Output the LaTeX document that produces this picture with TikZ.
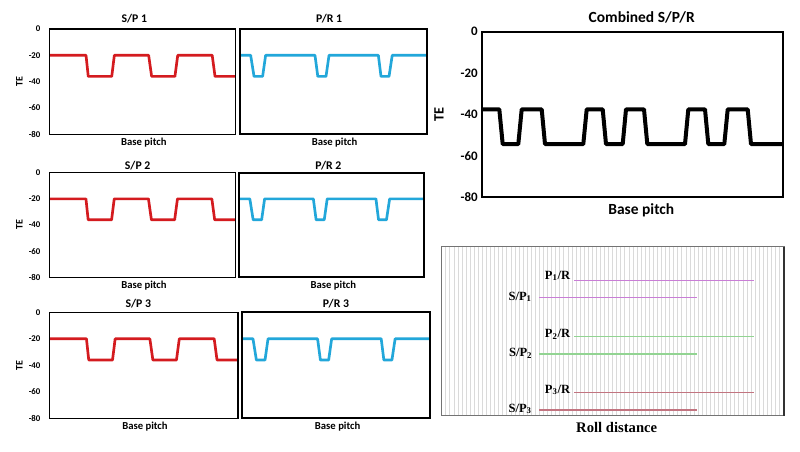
\documentclass[tikz,border=0pt]{standalone}
\usepackage{fontspec}
\setmainfont{Carlito}
\newfontfamily\rollfont{Liberation Serif}
\usepackage{xcolor}
\usepackage{tikz}
\usetikzlibrary{positioning}

\definecolor{spred}{HTML}{D41B1F}
\definecolor{prblue}{HTML}{22A7DA}
\definecolor{pone}{HTML}{C97ED6}
\definecolor{ptwo}{HTML}{92D492}
\definecolor{pthree}{HTML}{C27480}
\definecolor{rollgrid}{HTML}{DADADA}

\tikzset{
    panelbox/.style={line width=1.1pt},
    spline/.style={draw=spred, line width=2pt, line join=round},
    prline/.style={draw=prblue, line width=2pt, line join=round},
    combline/.style={draw=black, line width=3pt, line join=round},
    ticklbl/.style={anchor=east, inner sep=0pt, xshift=-6.5pt,
        font=\bfseries\fontsize{6.6}{7}\selectfont},
    telbl/.style={rotate=90, inner sep=0pt,
        font=\bfseries\fontsize{7.5}{8}\selectfont},
    paneltitle/.style={inner sep=0pt, font=\bfseries\fontsize{8.8}{10}\selectfont},
    pitchlbl/.style={inner sep=0pt, font=\bfseries\fontsize{8}{9}\selectfont},
    bigtick/.style={anchor=east, inner sep=0pt, xshift=-3.3pt,
        font=\bfseries\fontsize{9.7}{11}\selectfont},
    bigte/.style={rotate=90, inner sep=0pt,
        font=\bfseries\fontsize{10.7}{12}\selectfont},
    biglbl/.style={inner sep=0pt, font=\bfseries\fontsize{11.6}{13}\selectfont},
    rolllbl/.style={anchor=east, inner sep=0pt,
        font=\rollfont\bfseries\fontsize{9.4}{10}\selectfont},
    rollline/.style={line width=1.1pt}
}

% TE against base pitch, one panel wide, 0 to -80
\newcommand{\spwave}{(0,-20) -- (0.197,-20) -- (0.209,-36) -- (0.335,-36) -- (0.349,-20) -- (0.533,-20) -- (0.549,-36) -- (0.674,-36) -- (0.689,-20) -- (0.874,-20) -- (0.889,-36) -- (1,-36)}
\newcommand{\prwave}{(0,-20) -- (0.057,-20) -- (0.075,-36) -- (0.121,-36) -- (0.137,-20) -- (0.401,-20) -- (0.416,-36) -- (0.460,-36) -- (0.476,-20) -- (0.740,-20) -- (0.754,-36) -- (0.797,-36) -- (0.814,-20) -- (1,-20)}

\begin{document}
\begin{tikzpicture}[x=0.75pt, y=-0.75pt]
                \useasboundingbox[fill=white] (0,0) rectangle (800,451);

                % row 1
                \begin{scope}[shift={(49.3,29)}, x=139.8pt, y=0.987pt]
                    \draw[spline] \spwave;
                    \draw[panelbox] (0,0) rectangle (1,-80);
                    \foreach \v in {0,-20,...,-80}
                        \node[ticklbl] at (0,\v) {\v};
                    \node[telbl] (te1) at ([xshift=-22.5pt]0,-40) {TE};
                    \node[paneltitle] (sp1title) at ([yshift=7.5pt]0.456,0) {S/P 1};
                    \node[pitchlbl] (sp1pitch) at ([yshift=-6.3pt]0.507,-80) {Base pitch};
                \end{scope}
                \begin{scope}[shift={(240,29)}, x=140.25pt, y=0.987pt]
                    \draw[prline] \prwave;
                    \draw[panelbox, line width=1.4pt] (0,0) rectangle (1,-80);
                    \node[paneltitle] (pr1title) at ([yshift=7.5pt]0.476,0) {P/R 1};
                    \node[pitchlbl] (pr1pitch) at ([yshift=-6.3pt]0.506,-80) {Base pitch};
                \end{scope}

                % row 2
                \begin{scope}[shift={(49.3,172.7)}, x=139.5pt, y=0.981pt]
                    \draw[spline] \spwave;
                    \draw[panelbox] (0,0) rectangle (1,-80);
                    \foreach \v in {0,-20,...,-80}
                        \node[ticklbl] at (0,\v) {\v};
                    \node[telbl] (te2) at ([xshift=-22.5pt]0,-40) {TE};
                    \node[paneltitle] (sp2title) at ([yshift=5.3pt]0.475,0) {S/P 2};
                    \node[pitchlbl] (sp2pitch) at ([yshift=-6.3pt]0.509,-80) {Base pitch};
                \end{scope}
                \begin{scope}[shift={(239.3,172.7)}, x=138.5pt, y=0.981pt]
                    \draw[prline] \prwave;
                    \draw[panelbox, line width=1.4pt] (0,0) rectangle (1,-80);
                    \node[paneltitle] (pr2title) at ([yshift=5.3pt]0.482,0) {P/R 2};
                    \node[pitchlbl] (pr2pitch) at ([yshift=-6.3pt]0.509,-80) {Base pitch};
                \end{scope}

                % row 3
                \begin{scope}[shift={(49.3,312.3)}, x=141.5pt, y=0.994pt]
                    \draw[spline] \spwave;
                    \draw[panelbox] (0,0) rectangle (1,-80);
                    \foreach \v in {0,-20,...,-80}
                        \node[ticklbl] at (0,\v) {\v};
                    \node[telbl] (te3) at ([xshift=-22.5pt]0,-40) {TE};
                    \node[paneltitle] (sp3title) at ([yshift=6.2pt]0.472,0) {S/P 3};
                    \node[pitchlbl] (sp3pitch) at ([yshift=-6.3pt]0.507,-80) {Base pitch};
                \end{scope}
                \begin{scope}[shift={(242.3,312.3)}, x=140.8pt, y=0.994pt]
                    \draw[prline] \prwave;
                    \draw[panelbox, line width=1.4pt] (0,0) rectangle (1,-80);
                    \node[paneltitle] (pr3title) at ([yshift=6.2pt]0.499,0) {P/R 3};
                    \node[pitchlbl] (pr3pitch) at ([yshift=-6.3pt]0.508,-80) {Base pitch};
                \end{scope}

                % combined S/P/R
                \begin{scope}[shift={(482.3,31.7)}, x=0.75pt, y=1.5525pt]
                    \draw[combline] (0,-37.5) -- (17,-37.5) -- (20.4,-54.3) -- (36,-54.3)
                        -- (39.4,-37.5) -- (59.4,-37.5) -- (62.7,-54.3) -- (101,-54.3)
                        -- (104.4,-37.5) -- (120.4,-37.5) -- (123.7,-54.3) -- (140.4,-54.3)
                        -- (143.7,-37.5) -- (161.7,-37.5) -- (165,-54.3) -- (202.7,-54.3)
                        -- (206,-37.5) -- (222.7,-37.5) -- (226,-54.3) -- (242,-54.3)
                        -- (245.4,-37.5) -- (265.4,-37.5) -- (268.7,-54.3) -- (301,-54.3);
                    \draw[panelbox, line width=1.4pt] (0,0) rectangle (301,-80);
                    \foreach \v in {0,-20,...,-80}
                        \node[bigtick] at (0,\v) {\v};
                    \node[bigte] (combte) at ([xshift=-32.5pt]0,-40) {TE};
                    \node[biglbl] (combtitle) at ([yshift=10.8pt]159.4,0) {Combined S/P/R};
                    \node[biglbl] (combpitch) at ([yshift=-10pt]159,-80) {Base pitch};
                \end{scope}

                % roll distance
                \foreach \gx in {445.8,449.87,...,782}
                    \draw[rollgrid, line width=0.6pt] (\gx,246.7) -- (\gx,415.7);
                \draw[line width=0.6pt, draw=black!55] (441.7,246.7) rectangle (784,415.7);
                \draw[line width=0.9pt, draw=black!80] (784,246.7) -- (784,415.7);

                \node[rolllbl] (p1r) at (570.5,276) {P\textsubscript{1}/R};
                \node[rolllbl] (sp1) at (532,296.7) {S/P\textsubscript{1}};
                \node[rolllbl] (p2r) at (570.5,334.3) {P\textsubscript{2}/R};
                \node[rolllbl] (sp2) at (532.5,353.3) {S/P\textsubscript{2}};
                \node[rolllbl] (p3r) at (570.5,390) {P\textsubscript{3}/R};
                \node[rolllbl] (sp3) at (532,409) {S/P\textsubscript{3}};

                \draw[rollline, pone] (574.3,280.7) -- (754,280.7);
                \draw[rollline, pone] (539.3,297.7) -- (697.3,297.7);
                \draw[rollline, ptwo] (574.3,336.7) -- (754,336.7);
                \draw[rollline, ptwo] (539.3,354) -- (697.3,354);
                \draw[rollline, pthree] (574.3,392.7) -- (754,392.7);
                \draw[rollline, pthree] (539.3,410) -- (697.3,410);

                \node[inner sep=0pt, font=\rollfont\bfseries\fontsize{11}{12}\selectfont]
                    (rolldist) at (616.7,427.3) {Roll distance};
\end{tikzpicture}
\end{document}
